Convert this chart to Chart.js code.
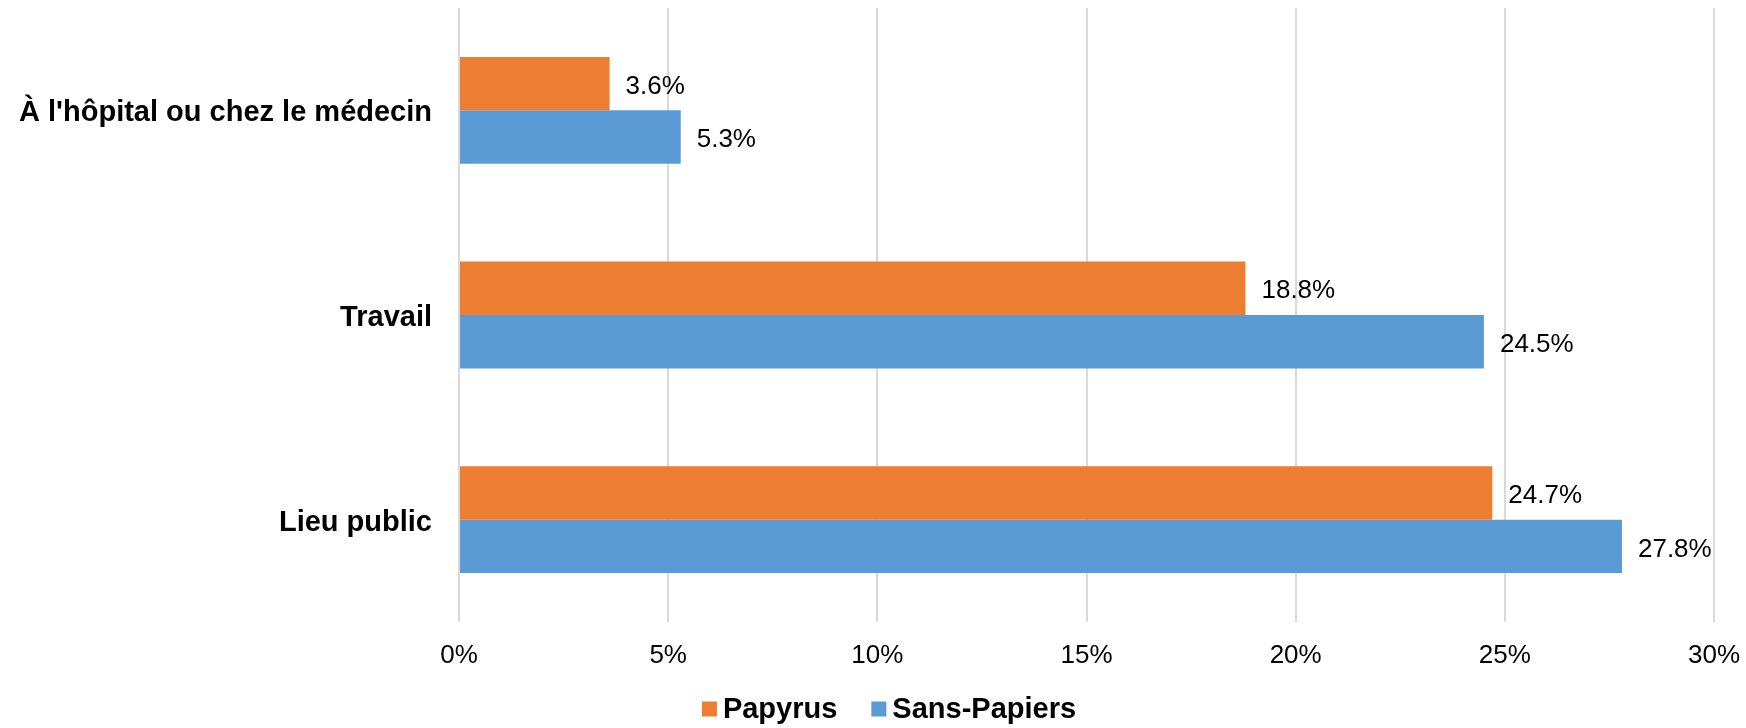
<!DOCTYPE html>
<html>
<head>
<meta charset="utf-8">
<script src="https://cdn.jsdelivr.net/npm/chart.js@4/dist/chart.umd.min.js"></script>
<style>
  html, body { margin: 0; padding: 0; background: #ffffff; }
  #wrap { width: 1746px; height: 728px; }
</style>
</head>
<body>
<div id="wrap"><canvas id="c" width="1746" height="728"></canvas></div>
<script>
const categories = ["À l'hôpital ou chez le médecin", "Travail", "Lieu public"];
const seriesNames = ["Papyrus", "Sans-Papiers"];
const papyrus = [3.6, 18.8, 24.7];
const sansPapiers = [5.3, 24.5, 27.8];
const xTickValues = [0, 5, 10, 15, 20, 25, 30];
const seriesColors = ['#ED7D31', '#5B9BD5'];

const FONT = "'Liberation Sans', Arial, Helvetica, sans-serif";

const valueLabels = {
  id: 'valueLabels',
  afterDatasetsDraw(chart) {
    const ctx = chart.ctx;
    ctx.save();
    ctx.font = '26px ' + FONT;
    ctx.fillStyle = '#000000';
    ctx.textAlign = 'left';
    ctx.textBaseline = 'middle';
    chart.data.datasets.forEach((ds, di) => {
      const meta = chart.getDatasetMeta(di);
      meta.data.forEach((el, i) => {
        ctx.fillText(ds.data[i].toFixed(1) + '%', el.x + 16, el.y + 3);
      });
    });
    ctx.restore();
  }
};

const customLegend = {
  id: 'customLegend',
  afterDraw(chart) {
    const ctx = chart.ctx;
    ctx.save();
    ctx.font = 'bold 29px ' + FONT;
    ctx.textBaseline = 'middle';
    ctx.textAlign = 'left';
    const box = 15, gapText = 6, gapItem = 34;
    const items = chart.data.datasets.map(ds => ({ label: ds.label, color: ds.backgroundColor, w: ctx.measureText(ds.label).width }));
    let total = 0;
    items.forEach((it, i) => { total += box + gapText + it.w + (i < items.length - 1 ? gapItem : 0); });
    const center = 889, cy = 709;
    let x = center - total / 2;
    items.forEach(it => {
      ctx.fillStyle = it.color;
      ctx.fillRect(x, cy - box / 2, box, box);
      x += box + gapText;
      ctx.fillStyle = '#000000';
      ctx.fillText(it.label, x, cy + 1);
      x += it.w + gapItem;
    });
    ctx.restore();
  }
};

new Chart(document.getElementById('c'), {
  type: 'bar',
  data: {
    labels: categories,
    datasets: [
      { label: seriesNames[0], data: papyrus, backgroundColor: seriesColors[0] },
      { label: seriesNames[1], data: sansPapiers, backgroundColor: seriesColors[1] }
    ]
  },
  options: {
    indexAxis: 'y',
    responsive: false,
    animation: false,
    devicePixelRatio: 1,
    layout: { padding: { left: 0, right: 32, top: 8, bottom: 39 } },
    datasets: { bar: { categoryPercentage: 0.522, barPercentage: 1.0 } },
    scales: {
      x: {
        min: 0, max: 30,
        afterBuildTicks(scale) { scale.ticks = xTickValues.map(v => ({ value: v })); },
        ticks: {
          padding: 18,
          color: '#000000',
          font: { family: FONT, size: 26 },
          callback: v => v + '%',
          maxRotation: 0
        },
        grid: { color: '#d9d9d9', lineWidth: 2, drawTicks: false, tickLength: 0 },
        border: { display: false },
        afterFit(scale) {
          scale.height = 67;
          scale.paddingLeft = 0;
          scale.paddingRight = 0;
        }
      },
      y: {
        grid: { display: false, drawTicks: false, tickLength: 0 },
        border: { display: false },
        ticks: {
          padding: 27,
          labelOffset: 3,
          color: '#000000',
          font: { family: FONT, size: 29, weight: 'bold' }
        },
        afterFit(scale) {
          scale.width = 459;
          scale.paddingTop = 0;
          scale.paddingBottom = 0;
        }
      }
    },
    plugins: {
      legend: { display: false },
      tooltip: { enabled: false }
    }
  },
  plugins: [valueLabels, customLegend]
});
</script>
</body>
</html>
